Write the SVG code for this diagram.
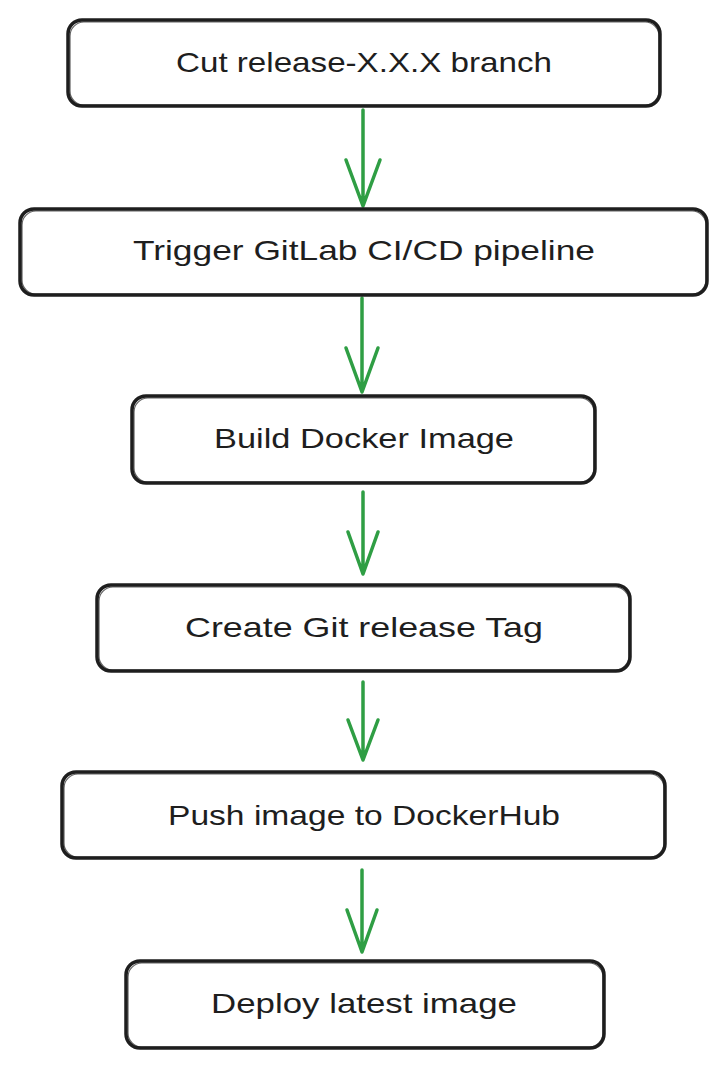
<svg xmlns="http://www.w3.org/2000/svg" width="728" height="1068" viewBox="0 0 728 1068">
<style>
.box{fill:#ffffff;stroke:#1e1e1e;stroke-width:3.5;}
.box2{fill:none;stroke:#1e1e1e;stroke-width:1.2;opacity:0.7;}
.lbl{font-family:"Liberation Sans",Arial,sans-serif;font-size:28px;fill:#1e1e1e;text-anchor:middle;}
.arr{fill:none;stroke:#2f9e44;stroke-width:3.5;stroke-linecap:round;stroke-linejoin:round;}
</style>
<rect width="728" height="1068" fill="#ffffff"/>
<g id="connectors">
<path class="arr" d="M363 110 L363 206 M346 160 L363 206 L380 160"/>
<path class="arr" d="M362 298 L362 392 M346 348 L362 392 L378 348"/>
<path class="arr" d="M363 492 L363 574 M348 532 L363 574 L378 532"/>
<path class="arr" d="M363 682 L363 760 M348 720 L363 760 L378 720"/>
<path class="arr" d="M362 870 L362 952 M347 910 L362 952 L377 910"/>
</g>
<g id="n1">
<rect class="box" x="68" y="20" width="592" height="86" rx="14"/>
<rect class="box2" x="70" y="22" width="589" height="83" rx="14"/>
<text class="lbl" x="364" y="72" textLength="376" lengthAdjust="spacingAndGlyphs">Cut release-X.X.X branch</text>
</g>
<g id="n2">
<rect class="box" x="20" y="209" width="687" height="86" rx="14"/>
<rect class="box2" x="22" y="211" width="684" height="83" rx="14"/>
<text class="lbl" x="364" y="260" textLength="462" lengthAdjust="spacingAndGlyphs">Trigger GitLab CI/CD pipeline</text>
</g>
<g id="n3">
<rect class="box" x="132" y="396" width="463" height="87" rx="14"/>
<rect class="box2" x="134" y="398" width="460" height="84" rx="14"/>
<text class="lbl" x="364" y="448" textLength="300" lengthAdjust="spacingAndGlyphs">Build Docker Image</text>
</g>
<g id="n4">
<rect class="box" x="97" y="585" width="533" height="86" rx="14"/>
<rect class="box2" x="99" y="587" width="530" height="83" rx="14"/>
<text class="lbl" x="364" y="637" textLength="358" lengthAdjust="spacingAndGlyphs">Create Git release Tag</text>
</g>
<g id="n5">
<rect class="box" x="62" y="772" width="603" height="86" rx="14"/>
<rect class="box2" x="64" y="774" width="600" height="83" rx="14"/>
<text class="lbl" x="364" y="825" textLength="392" lengthAdjust="spacingAndGlyphs">Push image to DockerHub</text>
</g>
<g id="n6">
<rect class="box" x="126" y="961" width="478" height="87" rx="14"/>
<rect class="box2" x="128" y="963" width="475" height="84" rx="14"/>
<text class="lbl" x="364" y="1013" textLength="306" lengthAdjust="spacingAndGlyphs">Deploy latest image</text>
</g>
</svg>
